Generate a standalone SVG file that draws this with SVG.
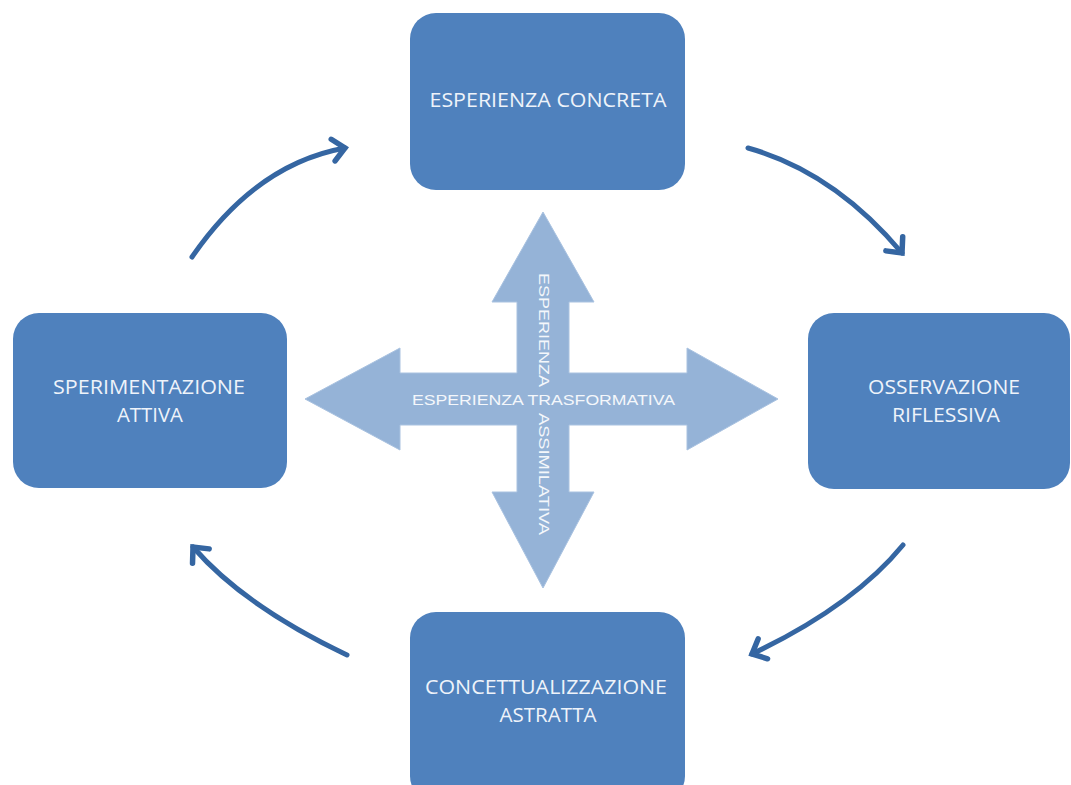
<svg xmlns="http://www.w3.org/2000/svg" width="1071" height="785" viewBox="0 0 1071 785">
<style>
.box{fill:#4F81BD;}
.lbl{font-family:"Open Sans",Lato,"Liberation Sans",sans-serif;font-size:19.5px;fill:#EEF3FA;text-anchor:middle;}
.xlbl{font-family:"Liberation Sans",Arial,sans-serif;font-size:15.5px;fill:#F4F7FB;}
.conn{fill:none;stroke:#3566A2;stroke-width:5;stroke-linecap:round;}
</style>
<defs>
<marker id="ah" markerUnits="userSpaceOnUse" markerWidth="32" markerHeight="32" refX="16" refY="16" orient="auto" viewBox="0 0 32 32">
<path d="M4,5 L16,16 L4,27" fill="none" stroke="#3566A2" stroke-width="5.5" stroke-linecap="round" stroke-linejoin="miter"/>
</marker>
</defs>
<rect width="1071" height="785" fill="#FFFFFF"/>
<g id="cross">
<polygon fill="#95B3D7" stroke="#A9C2E0" stroke-width="1" points="543,212 594,302 569,302 569,373 687,373 687,348 778,399 687,450 687,425 569,425 569,492 594,492 543,588 492,492 517,492 517,425 400,425 400,450 305,399 400,348 400,373 517,373 517,302 492,302"/>
<text class="xlbl" x="412" y="405" textLength="263" lengthAdjust="spacingAndGlyphs">ESPERIENZA TRASFORMATIVA</text>
<text class="xlbl" transform="translate(539,273) rotate(90)" x="0" y="0" textLength="114" lengthAdjust="spacingAndGlyphs">ESPERIENZA</text>
<text class="xlbl" transform="translate(539,413) rotate(90)" x="0" y="0" textLength="122" lengthAdjust="spacingAndGlyphs">ASSIMILATIVA</text>
</g>
<g id="n-esperienza-concreta">
<rect class="box" x="410" y="13" width="275" height="177" rx="26"/>
<text class="lbl" x="548" y="107" textLength="237" lengthAdjust="spacingAndGlyphs">ESPERIENZA CONCRETA</text>
</g>
<g id="n-osservazione-riflessiva">
<rect class="box" x="808" y="313" width="262" height="176" rx="26"/>
<text class="lbl" x="944" y="394" textLength="152" lengthAdjust="spacingAndGlyphs">OSSERVAZIONE</text>
<text class="lbl" x="946" y="422" textLength="108" lengthAdjust="spacingAndGlyphs">RIFLESSIVA</text>
</g>
<g id="n-concettualizzazione-astratta">
<rect class="box" x="410" y="612" width="275" height="190" rx="26"/>
<text class="lbl" x="546" y="694" textLength="242" lengthAdjust="spacingAndGlyphs">CONCETTUALIZZAZIONE</text>
<text class="lbl" x="548" y="722" textLength="97" lengthAdjust="spacingAndGlyphs">ASTRATTA</text>
</g>
<g id="n-sperimentazione-attiva">
<rect class="box" x="13" y="313" width="274" height="175" rx="26"/>
<text class="lbl" x="149" y="394" textLength="192" lengthAdjust="spacingAndGlyphs">SPERIMENTAZIONE</text>
<text class="lbl" x="150" y="422" textLength="66" lengthAdjust="spacingAndGlyphs">ATTIVA</text>
</g>
<g id="connectors">
<path class="conn" marker-end="url(#ah)" d="M192,257 Q256,164 345,148"/>
<path class="conn" marker-end="url(#ah)" d="M748,148 Q834,172 902,253"/>
<path class="conn" marker-end="url(#ah)" d="M903,545 Q853,606 752,654"/>
<path class="conn" marker-end="url(#ah)" d="M347,655 Q244,606 193,547"/>
</g>
</svg>
